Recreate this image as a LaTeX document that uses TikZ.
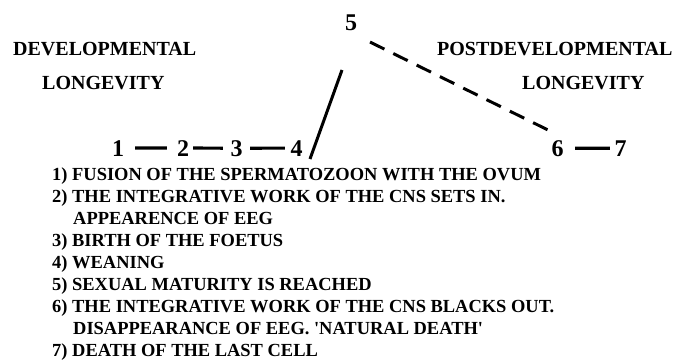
\documentclass[tikz,border=0pt]{standalone}
\usepackage{fontspec}
\setmainfont{Liberation Serif}
\usetikzlibrary{calc}

\tikzset{
  stage/.style={font=\fontsize{24}{24}\selectfont\bfseries,inner sep=0pt,anchor=base},
  phase/.style={font=\fontsize{20}{20}\selectfont\bfseries,inner sep=0pt,anchor=base west},
  item/.style={font=\fontsize{18.45}{18.45}\selectfont\bfseries,inner sep=0pt,anchor=base west},
  link/.style={line width=3.2pt}
}

\begin{document}
\begin{tikzpicture}[x=1pt,y=-1pt]
  \useasboundingbox (0,0) rectangle (675,360);
  % headings
  \node[phase] (devA) at (13,55.7) {DEVELOPMENTAL};
  \node[phase] (devB) at (42,89) {LONGEVITY};
  \node[phase] (postA) at (437,55.7) {POSTDEVELOPMENTAL};
  \node[phase] (postB) at (522,89) {LONGEVITY};
  % stages
  \foreach \n/\x/\y in {1/118/156,2/183/156,3/236.5/156,4/296.5/156,5/351/30,6/557.5/156,7/620.5/156}
    \node[stage] (n\n) at (\x,\y) {\n};
  \foreach \a/\b/\s/\e in {1/2/11/10,2/3/4/7.5,3/4/7.5/5.5,6/7/11.5/4.5}
    \draw[link,shorten <=\s pt,shorten >=\e pt] (n\a.east) -- (n\b.west);
  \coordinate (riseA) at (310,159);
  \coordinate (riseB) at (342,70);
  \draw[link,line width=3pt] (riseA) -- (riseB);
  \coordinate (fallA) at (370,42);
  \coordinate (fallB) at (548,130);
  \draw[link,line width=3pt,dash pattern=on 16pt off 10pt] (fallA) -- (fallB);
  % legend
  \foreach \x/\t [count=\i] in {52/{1) FUSION OF THE SPERMATOZOON WITH THE OVUM},
      52/{2) THE INTEGRATIVE WORK OF THE CNS SETS IN.},
      73/{APPEARENCE OF EEG},
      52/{3) BIRTH OF THE FOETUS},
      52/{4) WEANING},
      52/{5) SEXUAL MATURITY IS REACHED},
      52/{6) THE INTEGRATIVE WORK OF THE CNS BLACKS OUT.},
      73/{DISAPPEARANCE OF EEG. \textquotesingle NATURAL DEATH\textquotesingle},
      52/{7) DEATH OF THE LAST CELL}}
    \node[item] (line\i) at (\x,158+22*\i) {\t};
\end{tikzpicture}
\end{document}
